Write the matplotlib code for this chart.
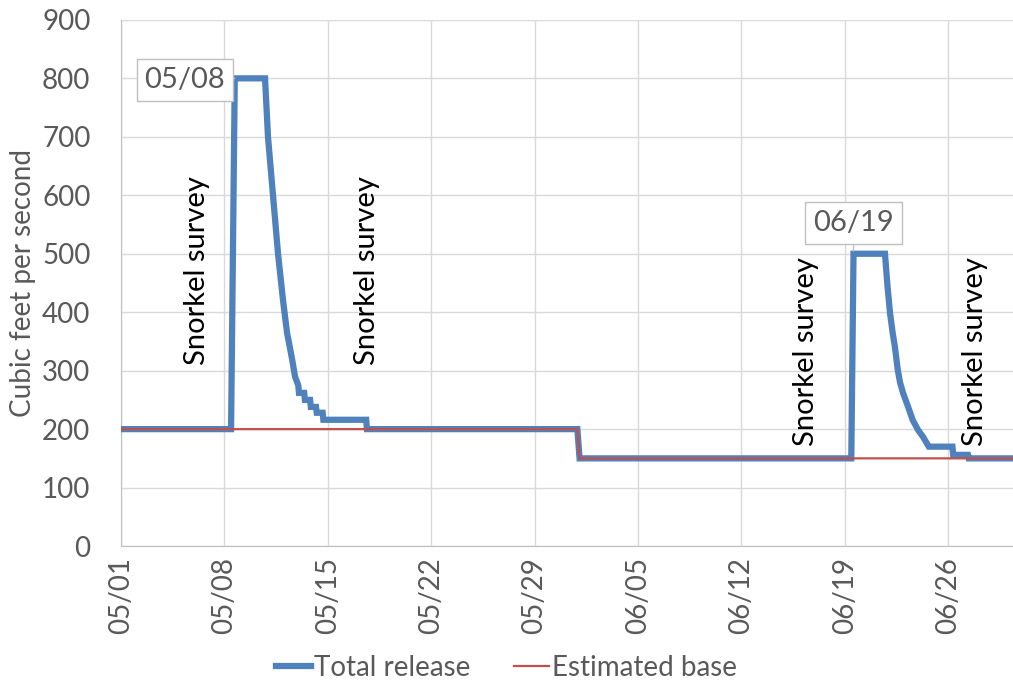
import pandas as pd
import matplotlib.pyplot as plt
import matplotlib.dates as mdates
from matplotlib.lines import Line2D

plt.rcParams['font.family'] = ['Lato', 'DejaVu Sans']

start = pd.Timestamp('2019-05-01')

# total release: (days after 05/01, cfs)
rel_days = [0, 7.45, 7.7, 9.75, 9.95, 10.29, 10.63, 10.97, 11.24, 11.58, 11.78, 12.0,
            12.05, 12.4, 12.45, 12.8, 12.85, 13.2, 13.25, 13.65, 13.7, 16.6, 16.65,
            30.9, 31.05, 49.45, 49.6, 51.73, 51.9, 52.07, 52.25, 52.4, 52.6, 52.75,
            52.95, 53.3, 53.6, 53.96, 54.3, 54.7, 56.3, 56.35, 57.35, 57.4, 60.5]
rel_vals = [200, 200, 800, 800, 700, 600, 500, 420, 365, 320, 290, 275,
            262, 262, 250, 250, 238, 238, 228, 228, 216, 216, 200,
            200, 150, 150, 500, 500, 445, 399, 365, 341, 301, 280,
            262, 238, 216, 199, 187, 170, 170, 156, 156, 150, 150]

# estimated base flow
base_days = [0, 30.9, 31.05, 60.5]
base_vals = [200, 200, 150, 150]

# snorkel survey labels: (days, bottom of text in cfs)
survey_days = [5.15, 16.65, 46.4, 57.8]
survey_y = [310, 310, 172, 172]

peak_labels = ['05/08', '06/19']
peak_days = [7.7, 49.6]
peak_vals = [800, 500]

rel_t = [start + pd.Timedelta(days=d) for d in rel_days]
base_t = [start + pd.Timedelta(days=d) for d in base_days]

blue = '#4F81BD'
red = '#C0504D'
grey = '#595959'

fig = plt.figure(figsize=(10.13, 6.86), dpi=100)
ax = fig.add_axes([0.1195, 0.204, 0.8805, 0.767])

ax.plot(rel_t, rel_vals, color=blue, lw=4.5, solid_joinstyle='miter', zorder=3)
ax.plot(base_t, base_vals, color=red, lw=1.6, zorder=4)

ax.set_ylim(0, 900)
ax.set_yticks(range(0, 901, 100))
ax.set_xlim(start, start + pd.Timedelta(days=60.4))
ticks = [start + pd.Timedelta(days=7 * i) for i in range(9)]
ax.set_xticks(ticks)
ax.xaxis.set_major_formatter(mdates.DateFormatter('%m/%d'))
ax.tick_params(axis='x', labelrotation=90, length=0, labelsize=20, colors=grey, pad=8)
ax.tick_params(axis='y', length=0, labelsize=20, colors=grey, pad=22)

ax.grid(True, color='#d9d9d9', lw=1)
ax.set_axisbelow(True)
for s in ['top', 'right']:
    ax.spines[s].set_visible(False)
for s in ['left', 'bottom']:
    ax.spines[s].set_color('#bfbfbf')

ax.set_ylabel('Cubic feet per second', fontsize=20, color=grey)
ax.yaxis.set_label_coords(-0.095, 0.5)

for d, y in zip(survey_days, survey_y):
    ax.text(start + pd.Timedelta(days=d), y, 'Snorkel survey', rotation=90,
            ha='center', va='bottom', fontsize=21, color='black')

offsets = [(-36, -1), (0, 22)]
for lab, d, v, off in zip(peak_labels, peak_days, peak_vals, offsets):
    ax.annotate(lab, xy=(start + pd.Timedelta(days=d), v), xytext=off,
                textcoords='offset points', ha='center', va='center',
                fontsize=21, color=grey,
                bbox=dict(boxstyle='square,pad=0.27', fc='white', ec='#bfbfbf', lw=1),
                arrowprops=dict(arrowstyle='-', color='#bfbfbf', lw=1,
                                shrinkA=0, shrinkB=2))

handles = [Line2D([], [], color=blue, lw=4.5), Line2D([], [], color=red, lw=1.6)]
fig.legend(handles, ['Total release', 'Estimated base'], loc='center',
           bbox_to_anchor=(0.5, 0.026), ncol=2, frameon=False, fontsize=20,
           labelcolor=grey, handlelength=1.25, handletextpad=0.1, columnspacing=1.6)

fig.savefig('out.png', dpi=100)
